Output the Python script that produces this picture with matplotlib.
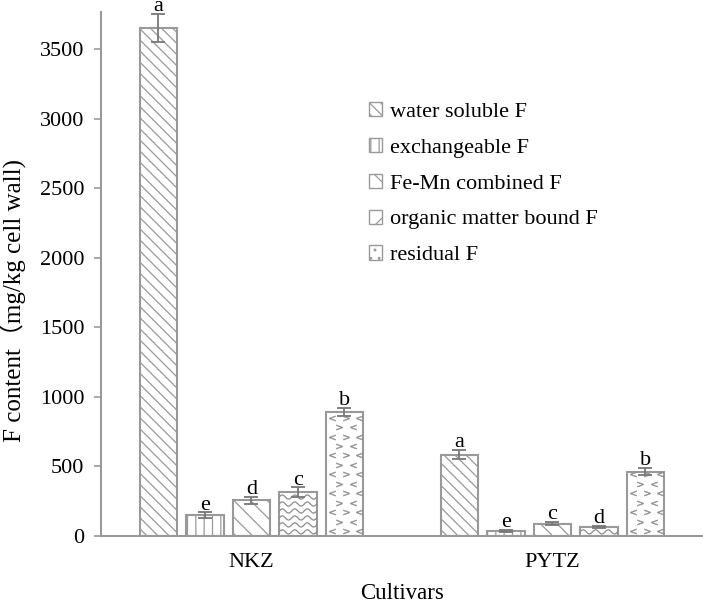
import numpy as np
import matplotlib
matplotlib.use('Agg')
import matplotlib.pyplot as plt
from matplotlib.patches import Patch

plt.rcParams['font.family'] = ['Liberation Serif', 'Noto Sans CJK SC']
plt.rcParams['hatch.color'] = '#8c8c8c'
plt.rcParams['hatch.linewidth'] = 0.9

# данные
cultivars = ['NKZ', 'PYTZ']
fractions = ['water soluble F', 'exchangeable F', 'Fe-Mn combined F',
             'organic matter bound F', 'residual F']
values = [[3650, 585],
          [150, 36],
          [258, 88],
          [315, 66],
          [890, 462]]
errors = [[100, 35],
          [20, 8],
          [25, 12],
          [35, 8],
          [30, 25]]
letters = [['a', 'a'],
           ['e', 'e'],
           ['d', 'c'],
           ['c', 'd'],
           ['b', 'b']]
hatches = ['\\\\\\', '||', '\\\\', '', '']
leg_hatches = ['\\\\\\', '||', '\\', '/', '..']

edge = '#999999'
patc = '#8c8c8c'
fig = plt.figure(figsize=(7.03, 6.05), dpi=100)
ax = fig.add_axes([0.1437, 0.114, 0.856, 0.866])

x = np.arange(len(cultivars))
w = 0.125
step = 0.1545
fs = 16

for i, name in enumerate(fractions):
    pos = x + (i - 2) * step
    bars = ax.bar(pos, values[i], w, color='white', edgecolor=edge,
                  linewidth=1.5, hatch=hatches[i], label=name, zorder=2)
    ax.errorbar(pos, values[i], yerr=errors[i], fmt='none', ecolor='#777777',
                elinewidth=1.3, capsize=5, capthick=1.3, zorder=4)
    for p, v, e, t in zip(pos, values[i], errors[i], letters[i]):
        ax.text(p, v + e + 20, t, ha='center', va='baseline', fontsize=fs,
                clip_on=False)
    # волнистые линии для organic matter
    if i == 3:
        for b in bars:
            x0, w0, h0 = b.get_x(), b.get_width(), b.get_height()
            xx = np.linspace(x0, x0 + w0, 80)
            for yy in np.arange(30, h0, 50):
                ln, = ax.plot(xx, yy + 15 * np.sin((xx - x0) / w0 * 6 * np.pi),
                              color=patc, lw=0.9, zorder=3)
                ln.set_clip_path(b)
    # уголки для residual
    if i == 4:
        for b in bars:
            x0, w0, h0 = b.get_x(), b.get_width(), b.get_height()
            k = 0
            for yy in np.arange(35, h0 - 15, 68):
                cols = [0.18, 0.55, 0.88] if k % 2 == 0 else [0.35, 0.72]
                for j, fx in enumerate(cols):
                    m = '$<$' if (j + k) % 2 == 0 else '$>$'
                    ax.plot(x0 + fx * w0, yy, marker=m, ms=4.5, color=patc,
                            mew=0.3, zorder=3)
                k += 1

ax.set_xlim(-0.5, 1.5)
ax.set_ylim(0, 3765)
ax.set_yticks(range(0, 4000, 500))
ax.set_xticks(x)
ax.set_xticklabels(cultivars, fontsize=fs)
ax.tick_params(axis='y', labelsize=fs, color=edge, length=5, width=1.2, pad=7)
ax.tick_params(axis='x', length=0, pad=12)
for s in ['top', 'right']:
    ax.spines[s].set_visible(False)
for s in ['left', 'bottom']:
    ax.spines[s].set_color(edge)
    ax.spines[s].set_linewidth(1.5)

ax.set_xlabel('Cultivars', fontsize=16.5, labelpad=8)
ax.set_ylabel('F content（mg/kg cell wall)', fontsize=18)
ax.yaxis.set_label_coords(-0.125, 0.45)

handles = [Patch(facecolor='white', edgecolor=edge, hatch=h) for h in leg_hatches]
ax.legend(handles, fractions, loc='upper left', bbox_to_anchor=(0.509, 0.85),
          bbox_transform=fig.transFigure, frameon=False, fontsize=fs,
          handlelength=0.6, handleheight=0.6, handletextpad=0.35,
          labelspacing=0.72, borderpad=0)

plt.savefig('out.png', dpi=100)
plt.close(fig)
